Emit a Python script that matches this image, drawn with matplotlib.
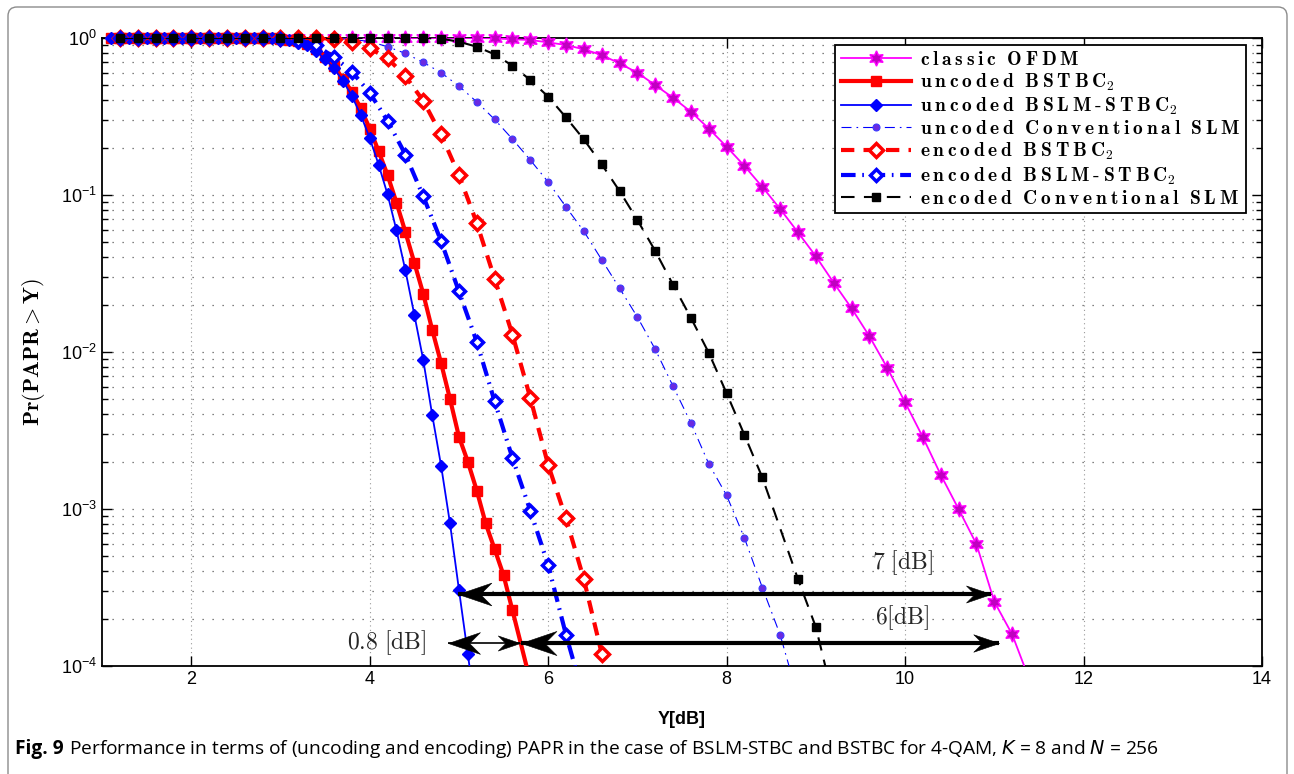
import numpy as np
import matplotlib
matplotlib.use("Agg")
import matplotlib.pyplot as plt
from matplotlib.lines import Line2D
from matplotlib.patches import FancyBboxPatch
from matplotlib.path import Path

# - sample grids in dB (the simulation steps)
x_ofdm      = np.round(np.arange(1.2, 11.41, 0.2), 1)
x_unc_bstbc = np.append(np.round(np.arange(1.1, 5.61, 0.1), 1), 5.8)
x_unc_bslm  = np.round(np.arange(1.1, 5.21, 0.1), 1)
x_unc_slm   = np.round(np.arange(1.2, 8.81, 0.2), 1)
x_enc_bstbc = np.round(np.arange(1.2, 6.81, 0.2), 1)
x_enc_bslm  = np.round(np.arange(1.2, 6.41, 0.2), 1)
x_enc_slm   = np.append(np.round(np.arange(1.2, 8.41, 0.2), 1), [8.8, 9.0, 9.2])

# - Pr(PAPR > Y)
y_ofdm = [1.0, 1.0, 1.0, 1.0, 1.0, 1.0, 1.0, 1.0, 1.0, 1.0, 1.0,
          1.0, 1.0, 1.0, 1.0, 1.0, 1.0, 1.0, 1.0, 1.0, 1.0,
          0.995, 0.981, 0.971, 0.938, 0.902, 0.847, 0.779, 0.689, 0.601, 0.501,
          0.416, 0.339, 0.265, 0.203, 0.153, 0.1126, 0.0815, 0.0578, 0.0407, 0.0276,
          0.0190, 0.0126, 0.00793, 0.00478, 0.00286, 0.00165, 0.000998, 0.000597,
          0.000257, 0.000159, 8.0e-5]

y_unc_bstbc = [1.0, 1.0, 1.0, 1.0, 1.0, 1.0, 1.0, 1.0, 1.0, 1.0,
               1.0, 1.0, 1.0, 1.0, 1.0, 1.0, 1.0, 1.0, 1.0,
               0.99, 0.975, 0.95, 0.91, 0.85, 0.76, 0.66, 0.55, 0.455, 0.356,
               0.265, 0.190, 0.134, 0.0895, 0.0581, 0.0371, 0.0235, 0.0139, 0.0085, 0.00502,
               0.00289, 0.0020, 0.00131, 0.000809, 0.000555, 0.000379, 0.000226, 8.0e-5]

y_unc_bslm = [1.0, 1.0, 1.0, 1.0, 1.0, 1.0, 1.0, 1.0, 1.0, 1.0,
              1.0, 1.0, 1.0, 1.0, 1.0, 1.0, 1.0, 1.0,
              0.995, 0.985, 0.965, 0.935, 0.90, 0.83, 0.731, 0.641, 0.534, 0.427,
              0.323, 0.231, 0.156, 0.101, 0.0596, 0.0331, 0.0173, 0.0089, 0.00399, 0.00189,
              0.000809, 0.000307, 0.000119, 4.5e-5]

y_unc_slm = [1.0, 1.0, 1.0, 1.0, 1.0, 1.0, 1.0, 1.0, 1.0, 1.0, 1.0, 1.0,
             0.995, 0.98, 0.95, 0.88, 0.798, 0.700, 0.601, 0.494, 0.392, 0.303,
             0.227, 0.167, 0.121, 0.0839, 0.0587, 0.0387, 0.0255, 0.0167, 0.0104,
             0.00605, 0.00353, 0.00194, 0.00122, 0.000653, 0.000316, 0.000158, 6.3e-5]

y_enc_bstbc = [1.0, 1.0, 1.0, 1.0, 1.0, 1.0, 1.0, 1.0, 1.0, 1.0, 1.0, 1.0,
               0.99, 0.947, 0.86, 0.742, 0.572, 0.398, 0.243, 0.134, 0.0663, 0.0293,
               0.0129, 0.0051, 0.00191, 0.00087, 0.000357, 0.00012, 4.0e-5]

y_enc_bslm = [1.0, 1.0, 1.0, 1.0, 1.0, 1.0, 1.0, 1.0, 1.0,
              0.985, 0.96, 0.90, 0.753, 0.61, 0.448, 0.297, 0.181, 0.0982, 0.0509,
              0.0243, 0.0116, 0.00485, 0.00211, 0.000975, 0.00044, 0.000158, 6.3e-5]

y_enc_slm = [1.0, 1.0, 1.0, 1.0, 1.0, 1.0, 1.0, 1.0, 1.0, 1.0,
             1.0, 1.0, 1.0, 1.0, 1.0, 1.0, 1.0, 1.0,
             0.99, 0.947, 0.880, 0.787, 0.666, 0.540, 0.423, 0.312, 0.226, 0.157,
             0.106, 0.0693, 0.0440, 0.0268, 0.0165, 0.00988, 0.00546, 0.00296, 0.00159,
             0.000357, 0.000177, 6.0e-5]

labels = ['classic OFDM', 'uncoded BSTBC_2', 'uncoded BSLM-STBC_2',
          'uncoded Conventional SLM', 'encoded BSTBC_2', 'encoded BSLM-STBC_2',
          'encoded Conventional SLM']

# - gap annotations
gap_labels = [r'$7\ [\mathrm{dB}]$', r'$6[\mathrm{dB}]$', r'$0.8\ [\mathrm{dB}]$']

W, H = 1294, 774
STAR6 = (6, 1, 0)


def spaced_bold(label):
    # - matlab prints the legend letter-spaced, imitate with small spaces
    sub = ''
    if label.endswith('_2'):
        label, sub = label[:-2], '_2'
    words = []
    for w in label.split(' '):
        words.append(r'\:'.join(r'\text{-}' if c == '-' else c for c in w))
    return r'$\mathbf{' + r'\ \ '.join(words) + '}' + sub + '$'


def head_marker(direction):
    # - barbed arrow head, tip at the origin
    s = 1 if direction == 'right' else -1
    verts = [(0, 0), (-s, 0.34), (-0.66 * s, 0), (-s, -0.34), (0, 0)]
    codes = [Path.MOVETO, Path.LINETO, Path.LINETO, Path.LINETO, Path.CLOSEPOLY]
    return Path(verts, codes)


def gap_arrow(ax, x0, x1, y, lw, ms_left, ms_right):
    ax.plot([x0, x1], [y, y], color='black', lw=lw, solid_capstyle='butt', zorder=15)
    ax.plot([x0], [y], marker=head_marker('left'), ms=ms_left, color='black',
            mew=0.4, clip_on=False, zorder=16)
    ax.plot([x1], [y], marker=head_marker('right'), ms=ms_right, color='black',
            mew=0.4, clip_on=False, zorder=16)


def draw_curve(ax, x, y, st, z):
    x = np.asarray(x)
    y = np.asarray(y)
    ax.plot(x, y, color=st['color'], ls=st['ls'], lw=st['lw'], zorder=z)

    # - markers are not clipped at the box (matlab style), skip the ones below the axis
    keep = y >= 1e-4
    ax.plot(x[keep], y[keep], ls='none', marker=st['marker'], ms=st['ms'],
            mfc=st['mfc'], mec=st['mec'], mew=st['mew'], clip_on=False, zorder=z + 0.5)

    return Line2D([], [], color=st['color'], ls=st['ls'], lw=st['lw'], marker=st['marker'],
                  ms=st['ms'], mfc=st['mfc'], mec=st['mec'], mew=st['mew'])


def main():
    plt.rcParams['font.family'] = ['Liberation Sans', 'DejaVu Sans']
    plt.rcParams['xtick.direction'] = 'in'
    plt.rcParams['ytick.direction'] = 'in'

    fig = plt.figure(figsize=(W / 100, H / 100), dpi=100)
    ax = fig.add_axes([102 / W, 1 - 666 / H, 1160 / W, 628 / H])

    styles = [
        dict(color='#ff00ff', ls='-', lw=1.3, marker=STAR6, ms=11, mfc='#c000c0', mec='#ff00ff', mew=1.0),
        dict(color='#ff0000', ls='-', lw=3.0, marker='s', ms=7.5, mfc='#ff0000', mec='#ff0000', mew=1.0),
        dict(color='#0000ff', ls='-', lw=1.3, marker='D', ms=6.5, mfc='#0000ff', mec='#0000ff', mew=1.0),
        dict(color='#0000ff', ls=(0, (9, 4.5, 1.5, 4.5)), lw=0.8, marker='o', ms=5, mfc='#6a2ae0', mec='#3a3aff', mew=0.8),
        dict(color='#ff0000', ls=(0, (3.2, 2.2)), lw=3.0, marker='D', ms=7, mfc='white', mec='#ff0000', mew=2.5),
        dict(color='#0000ff', ls=(0, (3.5, 1.6, 0.4, 1.6)), lw=3.0, marker='D', ms=6.5, mfc='white', mec='#0000ff', mew=2.5),
        dict(color='black', ls=(0, (6.5, 4.5)), lw=1.5, marker='s', ms=5.5, mfc='black', mec='black', mew=1.0),
    ]
    series = [(x_ofdm, y_ofdm), (x_unc_bstbc, y_unc_bstbc), (x_unc_bslm, y_unc_bslm),
              (x_unc_slm, y_unc_slm), (x_enc_bstbc, y_enc_bstbc), (x_enc_bslm, y_enc_bslm),
              (x_enc_slm, y_enc_slm)]

    handles = []
    for i, ((x, y), st) in enumerate(zip(series, styles)):
        handles.append(draw_curve(ax, x, y, st, 3 + i))

    ax.set_yscale('log')
    ax.set_xlim(1, 14)
    ax.set_ylim(1e-4, 1)
    ax.set_xticks([2, 4, 6, 8, 10, 12, 14])
    ax.tick_params(which='both', top=True, right=True, labelsize=13, width=1.0)
    ax.tick_params(which='major', length=7.5)
    ax.tick_params(which='minor', length=4)
    for sp in ax.spines.values():
        sp.set_linewidth(1.3)

    # - dotted matlab-like grid
    ax.grid(True, which='major', axis='x', ls=(0, (1, 3)), lw=0.8, color='0.6')
    ax.grid(True, which='both', axis='y', ls=(0, (1, 7)), lw=0.9, color='0.35')

    ax.set_xlabel('Y[dB]', fontsize=13, fontweight='bold')
    ax.xaxis.set_label_coords(0.5, -0.071)
    ax.set_ylabel(r'$\mathbf{Pr(PAPR}>\mathbf{Y)}$', fontsize=16, math_fontfamily='cm')
    ax.yaxis.set_label_coords(-0.047, 0.5)

    leg = ax.legend(handles, [spaced_bold(s) for s in labels], loc='upper right',
                    bbox_to_anchor=(1 - 16 / 1160, 1 - 7 / 628),
                    borderaxespad=0, fancybox=False, framealpha=1, edgecolor='black',
                    handlelength=3.6, handletextpad=0.45, labelspacing=0.15, borderpad=0.3,
                    prop=dict(size=14, math_fontfamily='cm'))
    leg.get_frame().set_linewidth(1.3)
    leg.set_zorder(20)

    # - gap arrows
    gap_arrow(ax, 4.99, 10.96, 2.88e-4, 3.0, 48, 36)
    gap_arrow(ax, 5.70, 11.05, 1.41e-4, 3.0, 51, 37)
    gap_arrow(ax, 4.88, 5.69, 1.41e-4, 1.2, 46, 32)
    ax.text(9.97, 4.56e-4, gap_labels[0], fontsize=17, math_fontfamily='cm', ha='center', va='center', color='0.15')
    ax.text(9.97, 2.03e-4, gap_labels[1], fontsize=17, math_fontfamily='cm', ha='center', va='center', color='0.15')
    ax.text(4.19, 1.40e-4, gap_labels[2], fontsize=17, math_fontfamily='cm', ha='center', va='center', color='0.15')

    # - journal frame around the figure
    frame = FancyBboxPatch((0.08, -0.2), 12.79, 7.87, boxstyle='round,pad=0,rounding_size=0.09',
                           transform=fig.dpi_scale_trans, fill=False, ec='0.55', lw=1.0)
    fig.patches.append(frame)

    # - caption, bold "Fig. 9" then the rest
    renderer = fig.canvas.get_renderer()
    size = 13
    cap_y = 1 - 749 / H
    t1 = fig.text(15 / W, cap_y, 'Fig. 9', fontsize=size, fontweight='bold', va='center',
                  family=['Open Sans', 'DejaVu Sans'])
    rest = ('Performance in terms of (uncoding and encoding) PAPR in the case of BSLM-STBC '
            'and BSTBC for 4-QAM, $K$ = 8 and $N$ = 256')
    bb = t1.get_window_extent(renderer)
    t2 = fig.text((bb.x1 + 5) / W, cap_y, rest, fontsize=size, va='center',
                  family=['Open Sans', 'DejaVu Sans'], math_fontfamily='dejavusans')
    # - fit the caption width to the reference
    right = t2.get_window_extent(renderer).x1
    size = size * (1155 - 15) / (right - 15)
    t1.set_fontsize(size)
    bb = t1.get_window_extent(renderer)
    t2.set_fontsize(size)
    t2.set_x((bb.x1 + 5) / W)

    fig.savefig('out.png', dpi=100)


if __name__ == "__main__":
    main()
